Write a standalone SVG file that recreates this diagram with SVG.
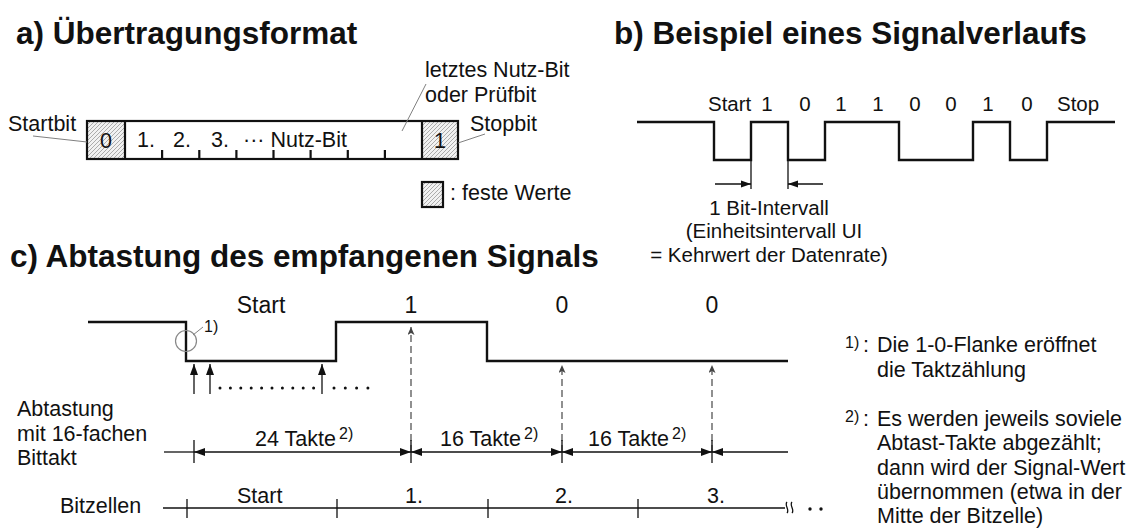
<svg xmlns="http://www.w3.org/2000/svg" width="1136" height="532" viewBox="0 0 1136 532">
<style>
text{font-family:"Liberation Sans",Arial,sans-serif;fill:#111;}
.title{font-size:31.5px;font-weight:bold;}
.ta{font-size:21.5px;}
.tb{font-size:20.5px;}
.tc{font-size:21.5px;}
.big{font-size:23px;}
.sup{font-size:16px;}
.w{fill:none;stroke:#111;stroke-width:2.4;stroke-linejoin:miter;}
.fr{stroke:#111;stroke-width:2.2;}
.thin{fill:none;stroke:#111;stroke-width:1.3;}
.lead{fill:none;stroke:#808080;stroke-width:1;}
.dash{fill:none;stroke:#555;stroke-width:1.3;stroke-dasharray:7 4;}
.dots{fill:none;stroke:#111;stroke-width:3;stroke-linecap:round;}
</style>
<defs>
<pattern id="hatch" patternUnits="userSpaceOnUse" width="4" height="4">
<rect width="4" height="4" fill="#f2f2f2"/>
<path d="M-1,1 L1,-1 M0,4 L4,0 M3,5 L5,3" stroke="#9a9a9a" stroke-width="0.8"/>
</pattern>
<marker id="ah" markerUnits="userSpaceOnUse" markerWidth="11" markerHeight="9" refX="11" refY="4.5" orient="auto-start-reverse">
<path d="M0,0.5 L11,4.5 L0,8.5 z" fill="#111"/>
</marker>
<marker id="ahs" markerUnits="userSpaceOnUse" markerWidth="10" markerHeight="8" refX="10" refY="4" orient="auto-start-reverse">
<path d="M0,0.5 L10,4 L0,7.5 z" fill="#111"/>
</marker>
<marker id="ahd" markerUnits="userSpaceOnUse" markerWidth="8" markerHeight="7" refX="8" refY="3.5" orient="auto">
<path d="M0,0 L8,3.5 L0,7 L2,3.5 z" fill="#444"/>
</marker>
</defs>

<!-- Titles -->
<g id="titles">
<text class="title" x="16" y="44">a) Übertragungsformat</text>
<text class="title" x="614" y="44">b) Beispiel eines Signalverlaufs</text>
<text class="title" x="10" y="267">c) Abtastung des empfangenen Signals</text>
</g>

<!-- a) Frame -->
<g id="frame">
<rect x="87" y="121" width="38" height="38" fill="url(#hatch)"/>
<rect x="422" y="121" width="36" height="38" fill="url(#hatch)"/>
<rect x="87" y="121" width="371" height="38" fill="none" class="fr"/>
<line x1="125" y1="121" x2="125" y2="159" class="fr"/>
<line x1="422" y1="121" x2="422" y2="159" class="fr"/>
<path class="fr" d="M162.1,150V159 M199.3,150V159 M236.4,150V159 M273.5,150V159 M310.6,150V159 M347.8,150V159 M384.9,150V159"/>
<text class="ta" x="106" y="148" text-anchor="middle">0</text>
<text class="ta" x="137" y="147">1.</text>
<text class="ta" x="173" y="147">2.</text>
<text class="ta" x="211" y="147">3.</text>
<text class="ta" x="243" y="147">··· Nutz-Bit</text>
<text class="ta" x="440" y="148" text-anchor="middle">1</text>
</g>
<g id="startbit">
<text class="ta" x="8" y="131">Startbit</text>
</g>
<g id="stopbit">
<text class="ta" x="470" y="131">Stopbit</text>
</g>
<g id="lastbit">
<text class="ta" x="425" y="77">letztes Nutz-Bit</text>
<text class="ta" x="425" y="102">oder Prüfbit</text>
</g>
<g id="legend">
<rect x="422" y="182" width="21" height="25" fill="url(#hatch)" class="fr"/>
<text class="ta" x="450" y="200">: feste Werte</text>
</g>

<!-- b) Signal -->
<g id="signal-b">
<path class="w" d="M637,122 H714 V160 H751 V122 H788 V160 H825 V122 H899 V160 H973 V122 H1010 V160 H1047 V122 H1115"/>
<text class="tb" x="708" y="111">Start</text>
<text class="tb" x="767" y="111" text-anchor="middle">1</text>
<text class="tb" x="805" y="111" text-anchor="middle">0</text>
<text class="tb" x="841" y="111" text-anchor="middle">1</text>
<text class="tb" x="878" y="111" text-anchor="middle">1</text>
<text class="tb" x="915" y="111" text-anchor="middle">0</text>
<text class="tb" x="951" y="111" text-anchor="middle">0</text>
<text class="tb" x="988" y="111" text-anchor="middle">1</text>
<text class="tb" x="1027" y="111" text-anchor="middle">0</text>
<text class="tb" x="1057" y="111">Stop</text>
</g>
<g id="bitinterval">
<text class="tb" x="769" y="215" text-anchor="middle">1 Bit-Intervall</text>
<text class="tb" x="774" y="238" text-anchor="middle">(Einheitsintervall UI</text>
<text class="tb" x="769" y="262" text-anchor="middle">= Kehrwert der Datenrate)</text>
</g>

<!-- c) -->
<g id="signal-c">
<path class="w" d="M88,322 H186 V361 H336 V322 H487 V361 H788"/>
<circle cx="186" cy="341" r="10.5" fill="none" stroke="#888" stroke-width="1.2"/>
<text class="sup" x="204" y="332">1)</text>
<text class="big" x="261" y="313" text-anchor="middle">Start</text>
<text class="big" x="411" y="313" text-anchor="middle">1</text>
<text class="big" x="562" y="313" text-anchor="middle">0</text>
<text class="big" x="712" y="313" text-anchor="middle">0</text>
</g>
<g id="abtastung">
<text class="tc" x="17" y="416">Abtastung</text>
<text class="tc" x="17" y="441">mit 16-fachen</text>
<text class="tc" x="17" y="465">Bittakt</text>
<text class="tc" x="255" y="446">24 Takte</text>
<text class="sup" x="339" y="439">2)</text>
<text class="tc" x="440" y="446">16 Takte</text>
<text class="sup" x="524" y="439">2)</text>
<text class="tc" x="588" y="446">16 Takte</text>
<text class="sup" x="672" y="439">2)</text>
</g>
<g id="bitzellen">
<text class="tc" x="60" y="513">Bitzellen</text>
<text class="tc" x="237" y="503">Start</text>
<text class="tc" x="405" y="503">1.</text>
<text class="tc" x="555" y="503">2.</text>
<text class="tc" x="707" y="503">3.</text>
</g>
<g id="notes">
<text class="sup" x="845" y="348">1)</text>
<text class="tc" x="863" y="352">:</text>
<text class="tc" x="877" y="352">Die 1-0-Flanke eröffnet</text>
<text class="tc" x="877" y="377">die Taktzählung</text>
<text class="sup" x="845" y="422">2)</text>
<text class="tc" x="863" y="426">:</text>
<text class="tc" x="877" y="426">Es werden jeweils soviele</text>
<text class="tc" x="877" y="450">Abtast-Takte abgezählt;</text>
<text class="tc" x="877" y="475">dann wird der Signal-Wert</text>
<text class="tc" x="877" y="499">übernommen (etwa in der</text>
<text class="tc" x="877" y="523">Mitte der Bitzelle)</text>
</g>

<!-- Connectors -->
<g id="connectors">
<!-- a) leaders -->
<line class="lead" x1="33" y1="136" x2="87" y2="142"/>
<line class="lead" x1="458" y1="143" x2="485" y2="134"/>
<line class="lead" x1="426" y1="84" x2="402" y2="131"/>
<!-- b) dimension -->
<line class="thin" x1="751" y1="160" x2="751" y2="189"/>
<line class="thin" x1="788" y1="160" x2="788" y2="189"/>
<line class="thin" x1="715" y1="184" x2="751" y2="184" marker-end="url(#ahs)"/>
<line class="thin" x1="823" y1="184" x2="788" y2="184" marker-end="url(#ahs)"/>
<!-- c) circle leader -->
<line class="lead" x1="193" y1="335" x2="203" y2="327"/>
<!-- sample arrows -->
<line class="thin" x1="194" y1="394" x2="194" y2="364" stroke-width="1.6" marker-end="url(#ah)"/>
<line class="thin" x1="210" y1="394" x2="210" y2="364" stroke-width="1.6" marker-end="url(#ah)"/>
<line class="thin" x1="322" y1="394" x2="322" y2="364" stroke-width="1.6" marker-end="url(#ah)"/>
<line class="dots" x1="220" y1="388" x2="314" y2="388" stroke-dasharray="0 10.4"/>
<line class="dots" x1="334" y1="388" x2="368" y2="388" stroke-dasharray="0 11.3"/>
<!-- dashed sampling arrows -->
<line class="dash" x1="411" y1="452" x2="411" y2="327" marker-end="url(#ahd)"/>
<line class="dash" x1="562" y1="452" x2="562" y2="365" marker-end="url(#ahd)"/>
<line class="dash" x1="712" y1="452" x2="712" y2="365" marker-end="url(#ahd)"/>
<!-- dimension line -->
<line class="thin" x1="164" y1="452" x2="194" y2="452"/>
<line class="thin" x1="194" y1="452" x2="411" y2="452" marker-start="url(#ah)" marker-end="url(#ah)"/>
<line class="thin" x1="411" y1="452" x2="562" y2="452" marker-start="url(#ah)" marker-end="url(#ah)"/>
<line class="thin" x1="562" y1="452" x2="712" y2="452" marker-start="url(#ah)" marker-end="url(#ah)"/>
<line class="thin" x1="712" y1="452" x2="788" y2="452" marker-start="url(#ah)"/>
<path class="thin" stroke-width="1.6" d="M194,440V463 M411,440V463 M562,440V463 M712,440V463"/>
<!-- Bitzellen line -->
<line class="thin" x1="163" y1="508" x2="785" y2="508"/>
<path class="thin" stroke-width="1.6" d="M187,499V518 M337,499V518 M488,499V518 M638,499V518"/>
<path class="thin" d="M787,502 C784,505 790,510 787,513 M792,502 C789,505 795,510 792,513"/>
<circle cx="810" cy="509" r="1.7" fill="#111"/>
<circle cx="821" cy="509" r="1.7" fill="#111"/>
</g>
</svg>
